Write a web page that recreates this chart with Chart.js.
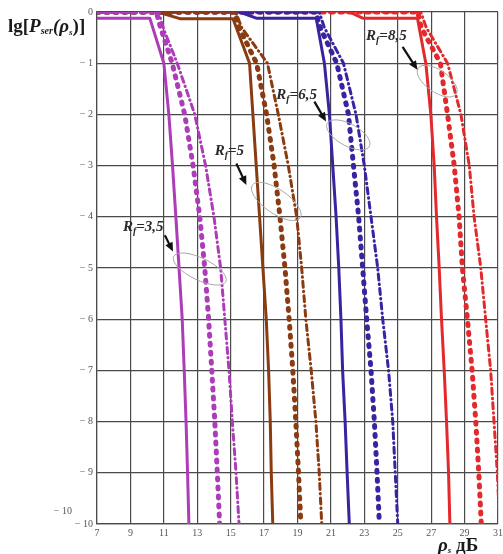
<!DOCTYPE html>
<html>
<head>
<meta charset="utf-8">
<script src="https://cdn.jsdelivr.net/npm/chart.js@4.4.1/dist/chart.umd.min.js"></script>
<style>
  html, body { margin: 0; padding: 0; background: #fff; }
  #wrap { width: 503px; height: 554px; }
</style>
</head>
<body>
<div id="wrap"><canvas id="grafico" width="503" height="554"></canvas></div>
<script>
// decades of lg P on the falling part of every curve
const levels = [-1, -2, -3, -4, -5, -6, -7, -8, -9, -10];

// R_f = 3,5 (magenta)
const solid35X  = [7, 10.16, 11.0, 11.3, 11.52, 11.72, 11.91, 12.1, 12.22, 12.33, 12.42, 12.5];
const solid35Y  = [-0.12, -0.12, ...levels];
const dots35X   = [7, 10.55, 10.8, 11.5, 12.25, 12.75, 13.15, 13.45, 13.68, 13.87, 14.05, 14.2, 14.34];
const dots35Y   = [0, 0, -0.3, ...levels];
const dash35X   = [7, 10.7, 10.95, 11.8, 12.85, 13.5, 14.0, 14.4, 14.65, 14.9, 15.1, 15.32, 15.5];
const dash35Y   = [0, 0, -0.3, ...levels];

// R_f = 5 (brown)
const solid5X   = [10.64, 11.96, 15.14, 16.13, 16.33, 16.53, 16.73, 16.93, 17.13, 17.27, 17.37, 17.43, 17.52];
const solid5Y   = [0, -0.13, -0.13, ...levels];
const dots5X    = [7, 15.24, 15.5, 16.55, 17.15, 17.6, 17.95, 18.25, 18.5, 18.72, 18.9, 19.06, 19.2];
const dots5Y    = [0, 0, -0.3, ...levels];
const dash5X    = [7, 15.3, 15.65, 17.2, 17.85, 18.45, 18.95, 19.25, 19.5, 19.82, 20.1, 20.3, 20.45];
const dash5Y    = [0, 0, -0.3, ...levels];

// R_f = 6,5 (blue)
const solid65X  = [15.54, 16.53, 20.12, 20.61, 20.91, 21.11, 21.31, 21.47, 21.6, 21.7, 21.85, 21.97, 22.1];
const solid65Y  = [0, -0.12, -0.12, ...levels];
const dots65X   = [7, 20.1, 20.35, 21.35, 22.05, 22.35, 22.66, 22.9, 23.14, 23.4, 23.6, 23.76, 23.9];
const dots65Y   = [0, 0, -0.3, ...levels];
const dash65X   = [7, 20.3, 20.6, 21.75, 22.5, 23.0, 23.4, 23.8, 24.1, 24.45, 24.7, 24.85, 25.0];
const dash65Y   = [0, 0, -0.3, ...levels];

// R_f = 8,5 (red)
const solid85X  = [22.1, 22.9, 26.18, 26.68, 26.98, 27.18, 27.32, 27.48, 27.62, 27.78, 27.92, 28.04, 28.12];
const solid85Y  = [0, -0.12, -0.12, ...levels];
const dots85X   = [7, 26.2, 26.4, 27.55, 27.98, 28.38, 28.67, 28.87, 29.17, 29.45, 29.67, 29.85, 30.0];
const dots85Y   = [0, 0, -0.3, ...levels];
const dash85X   = [7, 26.38, 26.7, 27.98, 28.78, 29.28, 29.57, 29.97, 30.26, 30.56, 30.76, 30.96, 31.1];
const dash85Y   = [0, 0, -0.3, ...levels];

// annotation labels
const rfLabels = ['=3,5', '=5', '=6,5', '=8,5'];

const colores = { m: '#ad3cb8', b: '#8a3b12', a: '#3a22a0', r: '#e3292c' };

function puntos(xs, ys) {
    return xs.map((x, i) => ({ x: x, y: ys[i] }));
}

function serie(xs, ys, color, tipo) {
    const ds = {
        data: puntos(xs, ys),
        borderColor: color,
        backgroundColor: color,
        showLine: true,
        pointRadius: 0,
        tension: 0,
        fill: false,
        borderCapStyle: 'round',
        borderJoinStyle: 'round'
    };
    if (tipo === 'solid') {
        ds.borderWidth = 3;
    } else if (tipo === 'dots') {
        ds.borderWidth = 5;
        ds.borderDash = [2, 7];
    } else {
        ds.borderWidth = 3;
        ds.borderDash = [6, 4, 0.5, 4];
    }
    return ds;
}

// annotation geometry in data units (text left/baseline, arrow, ellipse centre)
const notas = [
    { txt: [8.55, -4.28], from: [11.06, -4.36], to: [11.55, -4.68], ell: [13.15, -5.02], rx: 29, ry: 11, rot: 0.45 },
    { txt: [14.04, -2.8], from: [15.34, -2.96], to: [15.94, -3.38], ell: [17.73, -3.70], rx: 29, ry: 12, rot: 0.6 },
    { txt: [17.73, -1.69], from: [20.01, -1.75], to: [20.71, -2.14], ell: [22.04, -2.40], rx: 24, ry: 11, rot: 0.5 },
    { txt: [23.1, -0.55], from: [25.29, -0.68], to: [26.18, -1.13], ell: [27.36, -1.35], rx: 23, ry: 11, rot: 0.6 }
];

const SERIF = '"Liberation Serif", "DejaVu Serif", serif';

function textoRico(ctx, x, y, partes) {
    let cx = x;
    partes.forEach(p => {
        ctx.font = p.f;
        ctx.fillText(p.t, cx, y + (p.dy || 0));
        cx += ctx.measureText(p.t).width;
    });
}

const anotaciones = {
    id: 'anotaciones',
    afterDatasetsDraw(chart) {
        const ctx = chart.ctx;
        const sx = chart.scales.x, sy = chart.scales.y;
        ctx.save();
        notas.forEach((n, i) => {
            // ellipse
            ctx.beginPath();
            ctx.strokeStyle = '#a8a8a8';
            ctx.lineWidth = 1;
            ctx.ellipse(sx.getPixelForValue(n.ell[0]), sy.getPixelForValue(n.ell[1]), n.rx, n.ry, n.rot, 0, Math.PI * 2);
            ctx.stroke();
            // arrow
            const x1 = sx.getPixelForValue(n.from[0]), y1 = sy.getPixelForValue(n.from[1]);
            const x2 = sx.getPixelForValue(n.to[0]), y2 = sy.getPixelForValue(n.to[1]);
            const ang = Math.atan2(y2 - y1, x2 - x1);
            ctx.strokeStyle = '#111';
            ctx.fillStyle = '#111';
            ctx.lineWidth = 2.2;
            ctx.beginPath();
            ctx.moveTo(x1, y1);
            ctx.lineTo(x2 - 6 * Math.cos(ang), y2 - 6 * Math.sin(ang));
            ctx.stroke();
            ctx.beginPath();
            ctx.moveTo(x2, y2);
            ctx.lineTo(x2 - 9 * Math.cos(ang) + 4 * Math.sin(ang), y2 - 9 * Math.sin(ang) - 4 * Math.cos(ang));
            ctx.lineTo(x2 - 9 * Math.cos(ang) - 4 * Math.sin(ang), y2 - 9 * Math.sin(ang) + 4 * Math.cos(ang));
            ctx.closePath();
            ctx.fill();
            // label R_f=...
            ctx.fillStyle = '#2b2b2b';
            ctx.textBaseline = 'alphabetic';
            ctx.textAlign = 'left';
            textoRico(ctx, sx.getPixelForValue(n.txt[0]), sy.getPixelForValue(n.txt[1]), [
                { t: 'R', f: 'bold italic 15px ' + SERIF },
                { t: 'f', f: 'bold italic 10px ' + SERIF, dy: 3 },
                { t: rfLabels[i], f: 'bold italic 15px ' + SERIF }
            ]);
        });
        ctx.restore();
    },
    afterDraw(chart) {
        const ctx = chart.ctx;
        ctx.save();
        ctx.fillStyle = '#1a1a1a';
        ctx.textBaseline = 'alphabetic';
        ctx.textAlign = 'left';
        textoRico(ctx, 8, 32, [
            { t: 'lg[', f: 'bold 19px ' + SERIF },
            { t: 'P', f: 'bold italic 19px ' + SERIF },
            { t: 'ser', f: 'bold italic 10px ' + SERIF, dy: 2 },
            { t: '(', f: 'bold italic 19px ' + SERIF },
            { t: 'ρ', f: 'bold italic 19px ' + SERIF },
            { t: 's', f: 'bold italic 9px ' + SERIF, dy: 3 },
            { t: ')]', f: 'bold 19px ' + SERIF }
        ]);
        textoRico(ctx, 438, 551, [
            { t: 'ρ', f: 'bold italic 19px ' + SERIF },
            { t: 's', f: 'bold italic 9px ' + SERIF, dy: 2 },
            { t: ' дБ', f: 'bold 19px ' + SERIF }
        ]);
        // stray duplicate label of the original
        ctx.fillStyle = '#555';
        ctx.font = '10px ' + SERIF;
        ctx.textAlign = 'right';
        ctx.textBaseline = 'middle';
        ctx.fillText('\u2212 10', 72, 511);
        ctx.restore();
    }
};

const ctx = document.getElementById('grafico').getContext('2d');

const grafico = new Chart(ctx, {
    type: 'scatter',
    data: {
        datasets: [
            serie(solid35X, solid35Y, colores.m, 'solid'),
            serie(dots35X, dots35Y, colores.m, 'dots'),
            serie(dash35X, dash35Y, colores.m, 'dash'),
            serie(solid5X, solid5Y, colores.b, 'solid'),
            serie(dots5X, dots5Y, colores.b, 'dots'),
            serie(dash5X, dash5Y, colores.b, 'dash'),
            serie(solid65X, solid65Y, colores.a, 'solid'),
            serie(dots65X, dots65Y, colores.a, 'dots'),
            serie(dash65X, dash65Y, colores.a, 'dash'),
            serie(solid85X, solid85Y, colores.r, 'solid'),
            serie(dots85X, dots85Y, colores.r, 'dots'),
            serie(dash85X, dash85Y, colores.r, 'dash')
        ]
    },
    options: {
        responsive: false,
        animation: false,
        layout: { padding: { top: 12, right: 5, left: 0, bottom: 0 } },
        scales: {
            x: {
                type: 'linear',
                min: 7,
                max: 31,
                ticks: {
                    stepSize: 2,
                    padding: 3,
                    color: '#555',
                    font: { family: SERIF, size: 10 },
                    maxRotation: 0
                },
                grid: { color: '#4a4a4a', lineWidth: 1.2, drawTicks: false },
                border: { color: '#4a4a4a', width: 1.2 },
                afterFit(scale) {
                    scale.height = 30;
                    scale.paddingLeft = 0;
                    scale.paddingRight = 0;
                }
            },
            y: {
                type: 'linear',
                min: -10,
                max: 0,
                ticks: {
                    stepSize: 1,
                    padding: 4,
                    color: '#555',
                    font: { family: SERIF, size: 10 },
                    callback: v => v === 0 ? '0' : '\u2212 ' + Math.abs(v)
                },
                grid: { color: '#4a4a4a', lineWidth: 1.2, drawTicks: false },
                border: { color: '#4a4a4a', width: 1.2 },
                afterFit(scale) {
                    scale.width = 97;
                    scale.paddingTop = 0;
                    scale.paddingBottom = 0;
                }
            }
        },
        plugins: {
            legend: { display: false },
            tooltip: { enabled: false }
        }
    },
    plugins: [anotaciones]
});
</script>
</body>
</html>
